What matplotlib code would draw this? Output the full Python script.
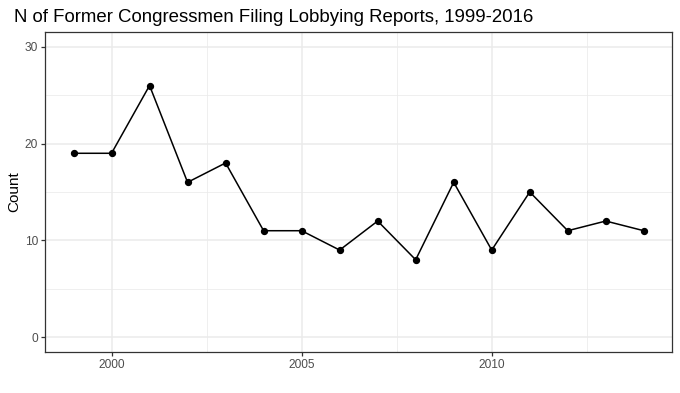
import matplotlib
matplotlib.use('Agg')
import matplotlib.pyplot as plt
from matplotlib.ticker import MultipleLocator

plt.rcParams['font.family'] = ['Liberation Sans', 'DejaVu Sans']

# data
years = [1999, 2000, 2001, 2002, 2003, 2004, 2005, 2006, 2007, 2008,
         2009, 2010, 2011, 2012, 2013, 2014]
counts = [19, 19, 26, 16, 18, 11, 11, 9, 12, 8, 16, 9, 15, 11, 12, 11]
x_ticks = [2000, 2005, 2010]
y_ticks = [0, 10, 20, 30]

fig = plt.figure(figsize=(6.8, 3.93), dpi=100)
ax = fig.add_axes([45 / 680, (393 - 351.7) / 393, 627.3 / 680, 319.4 / 393])

ax.plot(years, counts, color='black', linewidth=1.1, zorder=3)
ax.scatter(years, counts, color='black', s=18, zorder=4)

ax.set_xlim(1998.25, 2014.75)
ax.set_ylim(-1.5, 31.5)
ax.set_xticks(x_ticks)
ax.set_yticks(y_ticks)
ax.xaxis.set_minor_locator(MultipleLocator(2.5))
ax.yaxis.set_minor_locator(MultipleLocator(5))

ax.grid(which='major', color='#EBEBEB', linewidth=1.1, zorder=0)
ax.grid(which='minor', color='#EBEBEB', linewidth=0.55, zorder=0)
ax.set_axisbelow(True)

for s in ax.spines.values():
    s.set_color('#333333')
    s.set_linewidth(0.9)

ax.tick_params(which='major', length=3, width=0.9, color='#333333',
               labelsize=8.6, labelcolor='#4D4D4D', pad=2)
ax.tick_params(which='minor', length=0)

ax.set_ylabel('Count', fontsize=11)
ax.yaxis.set_label_coords(-24 / 627.3, 0.5)
fig.text(14 / 680, 1 - 22 / 393, 'N of Former Congressmen Filing Lobbying Reports, 1999-2016',
         fontsize=13.4, ha='left', va='baseline')

fig.savefig('out.png', dpi=100)
